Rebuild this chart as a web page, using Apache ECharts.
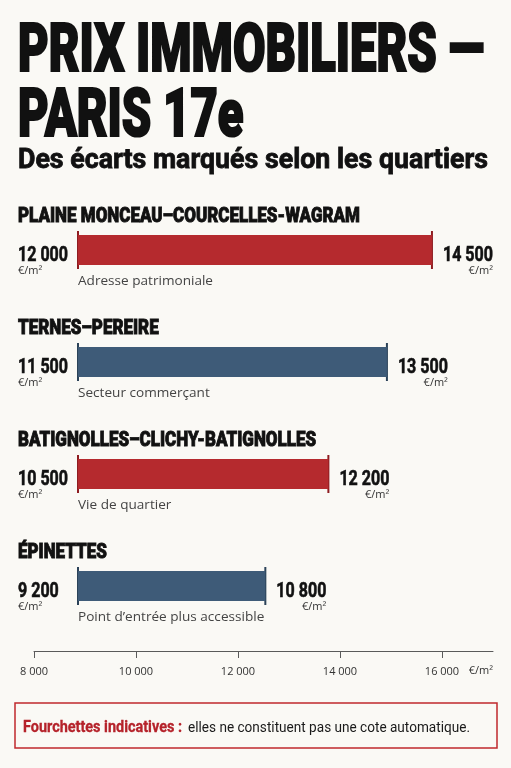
<!DOCTYPE html>
<html><head><meta charset="utf-8">
<script src="https://cdn.jsdelivr.net/npm/echarts@6/dist/echarts.min.js"></script>
<style>html,body{margin:0;padding:0;background:#faf9f5}#c{width:511px;height:768px}</style>
</head><body><div id="c"></div>
<script>
// ---- data ----
const titleLines = ['PRIX IMMOBILIERS —', 'PARIS 17e'];
const subtitle = 'Des écarts marqués selon les quartiers';
const quartiers = ['PLAINE MONCEAU–COURCELLES-WAGRAM', 'TERNES–PEREIRE', 'BATIGNOLLES–CLICHY-BATIGNOLLES', 'ÉPINETTES'];
const prixBas = [12000, 11500, 10500, 9200];
const prixHaut = [14500, 13500, 12200, 10800];
const legendes = ['Adresse patrimoniale', 'Secteur commerçant', 'Vie de quartier', 'Point d’entrée plus accessible'];
const axisTicks = [8000, 10000, 12000, 14000, 16000];
const unite = '€/m²';
const noteBold = 'Fourchettes indicatives :';
const noteText = 'elles ne constituent pas une cote automatique.';

// ---- styling helpers ----
const BG = '#faf9f5', INK = '#111111';
const RED = '#b52a2e', BLUE = '#3e5b78';
const RED_D = '#8e1c20', BLUE_D = '#2b4258';
const HEAD = 'Roboto';
const REG = '"Open Sans"';
const cv = document.createElement('canvas').getContext('2d');
function measure(t, f) { cv.font = f; return cv.measureText(t).width; }
function fmt(v) { return String(v).replace(/\B(?=(\d{3})+(?!\d))/g, ' '); }

const F_TITLE = '900 67px ' + HEAD;
const F_SUB = 'bold 27px ' + HEAD;
const F_HEAD = '900 21px ' + HEAD;
const F_VAL = 'bold 20px ' + HEAD;
const F_UNIT = '11px ' + REG;
const F_CAP = '13px ' + REG;
const F_NOTEB = 'bold 16px ' + HEAD;
const F_NOTE = '15px ' + HEAD;

const sTitle = 466 / measure('PRIX IMMOBILIERS —', F_TITLE);
const sSub = 470 / measure('Des écarts marqués selon les quartiers', F_SUB);
const sHead = 342 / measure('PLAINE MONCEAU–COURCELLES-WAGRAM', F_HEAD);
const sVal = 50 / measure('12 000', F_VAL);
const sCap = 135 / measure('Adresse patrimoniale', F_CAP);
const sNoteB = 159 / measure('Fourchettes indicatives :', F_NOTEB);
const sNote = 282 / measure('elles ne constituent pas une cote automatique.', F_NOTE);

function txt(x, y, text, font, fill, scale, align, strokeW) {
  const st = { text: text, font: font, fill: fill, align: align || 'left', verticalAlign: 'middle',
               textAlign: align || 'left', textVerticalAlign: 'middle' };
  if (strokeW) { st.stroke = fill; st.lineWidth = strokeW; }
  return { type: 'text', x: x, y: y, scaleX: scale || 1, scaleY: 1, style: st };
}

const AXMIN = 6640;
const chart = echarts.init(document.getElementById('c'), null, { renderer: 'canvas' });

const option = {
  backgroundColor: BG,
  animation: false,
  grid: [
    { left: 78, width: 421.5, top: 194, height: 448 },
    { left: 34, right: 18, top: 641, height: 10 }
  ],
  xAxis: [
    { type: 'value', gridIndex: 0, min: AXMIN, max: 16000, show: false },
    { type: 'value', gridIndex: 1, min: 8000, max: 17000, interval: 2000,
      axisLine: { show: true, lineStyle: { color: '#5a5a5a', width: 1 } },
      axisTick: { show: true, length: 7, lineStyle: { color: '#5a5a5a' }, customValues: axisTicks },
      axisLabel: { customValues: axisTicks, margin: 15, fontFamily: 'Open Sans', fontSize: 11, color: '#333',
                   formatter: v => fmt(v) },
      splitLine: { show: false } }
  ],
  yAxis: [
    { type: 'category', gridIndex: 0, data: quartiers, inverse: true, show: false },
    { type: 'value', gridIndex: 1, show: false }
  ],
  series: [
    {
      type: 'bar', xAxisIndex: 0, yAxisIndex: 0, barWidth: 30,
      data: prixHaut.map((v, i) => ({ value: v, itemStyle: { color: i % 2 ? BLUE : RED } })),
      silent: true
    },
    {
      type: 'custom', xAxisIndex: 0, yAxisIndex: 0,
      data: prixHaut.map((v, i) => [v, i]),
      renderItem: function (params, api) {
        const i = params.dataIndex;
        const end = api.coord([api.value(0), i]);
        const start = api.coord([AXMIN, i]);
        const yc = end[1];
        const xs = start[0], xe = end[0];
        const capC = i % 2 ? BLUE_D : RED_D;
        const vHi = fmt(prixHaut[i]);
        const wHi = measure(vHi, F_VAL) * sVal;
        const xr = xe + 11;
        return {
          type: 'group',
          children: [
            txt(18, yc - 33, quartiers[i], F_HEAD, INK, sHead, 'left', 0.9),
            { type: 'line', shape: { x1: xs, y1: yc - 19, x2: xs, y2: yc + 19 }, style: { stroke: capC, lineWidth: 2 } },
            { type: 'line', shape: { x1: xe, y1: yc - 19, x2: xe, y2: yc + 19 }, style: { stroke: capC, lineWidth: 2 } },
            txt(18, yc + 6, fmt(prixBas[i]), F_VAL, INK, sVal, 'left', 0.6),
            txt(18, yc + 21, unite, F_UNIT, '#333', 1),
            txt(xr, yc + 6, vHi, F_VAL, INK, sVal, 'left', 0.6),
            txt(xr + wHi, yc + 21, unite, F_UNIT, '#333', 1, 'right'),
            txt(xs, yc + 31, legendes[i], F_CAP, '#444', sCap)
          ]
        };
      }
    }
  ],
  graphic: [
    txt(18, 54, titleLines[0], F_TITLE, INK, sTitle, 'left', 2.2),
    txt(18, 119, titleLines[1], F_TITLE, INK, sTitle, 'left', 2.2),
    txt(18, 161, subtitle, F_SUB, INK, sSub, 'left', 0.8),
    txt(493, 671, unite, F_UNIT, '#333', 1, 'right'),
    { type: 'rect', shape: { x: 15, y: 703, width: 482, height: 45 },
      style: { fill: 'rgba(0,0,0,0)', stroke: '#c0282d', lineWidth: 1.5 } },
    txt(23, 728, noteBold, F_NOTEB, '#b5222a', sNoteB, 'left', 0.3),
    txt(188, 728, noteText, F_NOTE, '#1a1a1a', sNote)
  ]
};
chart.setOption(option);
</script>
</body></html>
